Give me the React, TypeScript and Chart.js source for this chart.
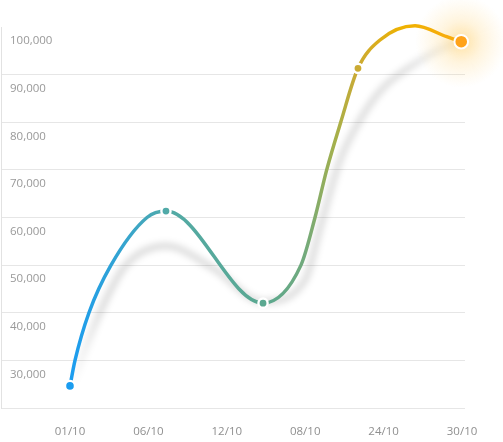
import React, { useEffect, useRef } from 'react';
import { Chart, registerables } from 'chart.js';

Chart.register(...registerables);

// Category labels on the x axis (positions 0..5)
const xLabels = ['01/10', '06/10', '12/10', '08/10', '24/10', '30/10'];

// Y axis range and step
const yMin = 20000;
const yMax = 100000;
const yStep = 10000;

// Main series: x in label units
const lineX = [0, 0.064, 0.242, 0.523, 0.982, 1.224, 2.462, 2.946, 3.125, 3.274, 3.453, 3.673, 3.954, 4.401, 4.805, 4.99];
const lineY = [24640, 30000, 40000, 50000, 60000, 61350, 42020, 50000, 60000, 70000, 80000, 91320, 97270, 100270, 97960, 96910];
// Indices of the series that carry a visible marker
const markerIdx = [0, 5, 6, 11, 15];

// Soft shadow trail under the line
const shadowX = [0, 0.383, 0.702, 1.224, 1.824, 2.462, 2.997, 3.189, 3.444, 3.737, 3.992, 4.375, 4.758, 4.99];
const shadowY = [24160, 40130, 49790, 53990, 49370, 42300, 46850, 57770, 72060, 81510, 87190, 92020, 95590, 96850];

const gradStops: [number, string][] = [
  [0, '#1a9cf0'],
  [0.15, '#38a5cc'],
  [0.25, '#52aaa6'],
  [0.5, '#5ba890'],
  [0.6, '#72aa7c'],
  [0.68, '#a6b04a'],
  [0.73, '#c9aa35'],
  [0.85, '#efb200'],
  [1, '#f9aa10'],
];

function makeGradient(chart: any) {
  const { ctx, chartArea, scales } = chart;
  if (!chartArea) return '#4aa8a8';
  const x0 = scales.x.getPixelForValue(0);
  const x1 = scales.x.getPixelForValue(lineX[lineX.length - 1]);
  const g = ctx.createLinearGradient(x0, 0, x1, 0);
  gradStops.forEach(([o, c]) => g.addColorStop(o, c));
  return g;
}

function makeShadowGradient(chart: any) {
  const { ctx, chartArea, scales } = chart;
  if (!chartArea) return 'rgba(0,0,0,0.12)';
  const x0 = scales.x.getPixelForValue(0);
  const x1 = scales.x.getPixelForValue(shadowX[shadowX.length - 1]);
  const g = ctx.createLinearGradient(x0, 0, x1, 0);
  g.addColorStop(0, 'rgba(0,0,0,0)');
  g.addColorStop(0.08, 'rgba(0,0,0,0.13)');
  g.addColorStop(0.85, 'rgba(0,0,0,0.12)');
  g.addColorStop(1, 'rgba(0,0,0,0.03)');
  return g;
}

const fxPlugin = {
  id: 'fx',
  beforeDatasetDraw(chart: any, args: any) {
    const ctx = chart.ctx;
    if (args.index === 1) {
      ctx.save();
      ctx.filter = 'blur(3px)';
    }
    if (args.index === 0) {
      const meta = chart.getDatasetMeta(0);
      const pt = meta.data[meta.data.length - 1];
      if (!pt) return;
      const r = 46;
      const g = ctx.createRadialGradient(pt.x, pt.y, 0, pt.x, pt.y, r);
      g.addColorStop(0, 'rgba(255,196,70,0.5)');
      g.addColorStop(0.45, 'rgba(255,205,100,0.22)');
      g.addColorStop(1, 'rgba(255,215,130,0)');
      ctx.save();
      ctx.fillStyle = g;
      ctx.beginPath();
      ctx.arc(pt.x, pt.y, r, 0, Math.PI * 2);
      ctx.fill();
      ctx.restore();
    }
  },
  afterDatasetDraw(chart: any, args: any) {
    if (args.index === 1) chart.ctx.restore();
  },
};

const tickFont = { family: 'Open Sans', size: 11.5 };

function zeroPad(axis: any) {
  axis.paddingLeft = 0;
  axis.paddingRight = 0;
  axis.paddingTop = 0;
  axis.paddingBottom = 0;
}

export default function App() {
  const ref = useRef<HTMLCanvasElement | null>(null);

  useEffect(() => {
    if (!ref.current) return;
    const last = lineX.length - 1;
    const chart = new Chart(ref.current, {
      type: 'line',
      data: {
        datasets: [
          {
            data: lineX.map((x, i) => ({ x, y: lineY[i] })),
            borderColor: (c: any) => makeGradient(c.chart),
            borderWidth: 3.5,
            cubicInterpolationMode: 'monotone',
            capBezierPoints: false,
            clip: false,
            fill: false,
            pointRadius: lineX.map((_, i) =>
              !markerIdx.includes(i) ? 0 : i === 0 ? 5 : i === last ? 6.8 : 4.6
            ),
            pointBorderWidth: lineX.map((_, i) => (i === last ? 2 : 2.4)),
            pointBorderColor: '#ffffff',
            pointBackgroundColor: (c: any) =>
              c.dataIndex === last ? '#ffa31a' : makeGradient(c.chart),
            pointHoverRadius: 0,
          } as any,
          {
            data: shadowX.map((x, i) => ({ x, y: shadowY[i] })),
            borderColor: (c: any) => makeShadowGradient(c.chart),
            borderWidth: 7,
            cubicInterpolationMode: 'monotone',
            capBezierPoints: false,
            clip: false,
            fill: false,
            pointRadius: 0,
            pointHoverRadius: 0,
          } as any,
        ],
      },
      options: {
        animation: false,
        responsive: true,
        maintainAspectRatio: false,
        events: [],
        layout: { autoPadding: false, padding: { left: 1, right: 38, top: 27, bottom: 0 } },
        plugins: { legend: { display: false }, tooltip: { enabled: false } },
        scales: {
          x: {
            type: 'linear',
            min: -0.88,
            max: 5.038,
            grid: { display: false },
            border: { display: false },
            afterBuildTicks: (axis: any) => {
              axis.ticks = xLabels.map((_, i) => ({ value: i }));
            },
            afterFit: (axis: any) => {
              zeroPad(axis);
              axis.height = 34;
            },
            ticks: {
              autoSkip: false,
              maxRotation: 0,
              padding: 9,
              color: '#8f8f8f',
              font: tickFont,
              callback: (v: any) => xLabels[Math.round(Number(v))] ?? '',
            },
          },
          y: {
            min: yMin,
            max: yMax,
            afterFit: (axis: any) => {
              zeroPad(axis);
              axis.width = 0;
            },
            grid: {
              drawTicks: false,
              color: (c: any) => (c.tick && c.tick.value === yMax ? 'rgba(0,0,0,0)' : '#e6e6e6'),
            },
            border: { display: true, color: '#e2e2e2' },
            ticks: {
              stepSize: yStep,
              mirror: true,
              padding: 9,
              labelOffset: 14,
              color: '#999999',
              font: tickFont,
              callback: (v: any) => (Number(v) === yMin ? '' : Number(v).toLocaleString('en-US')),
            },
          },
        },
      } as any,
      plugins: [fxPlugin],
    });
    return () => chart.destroy();
  }, []);

  return (
    <div style={{ position: 'fixed', left: 0, top: 0, width: 503, height: 442, background: '#ffffff' }}>
      <canvas ref={ref} />
    </div>
  );
}
